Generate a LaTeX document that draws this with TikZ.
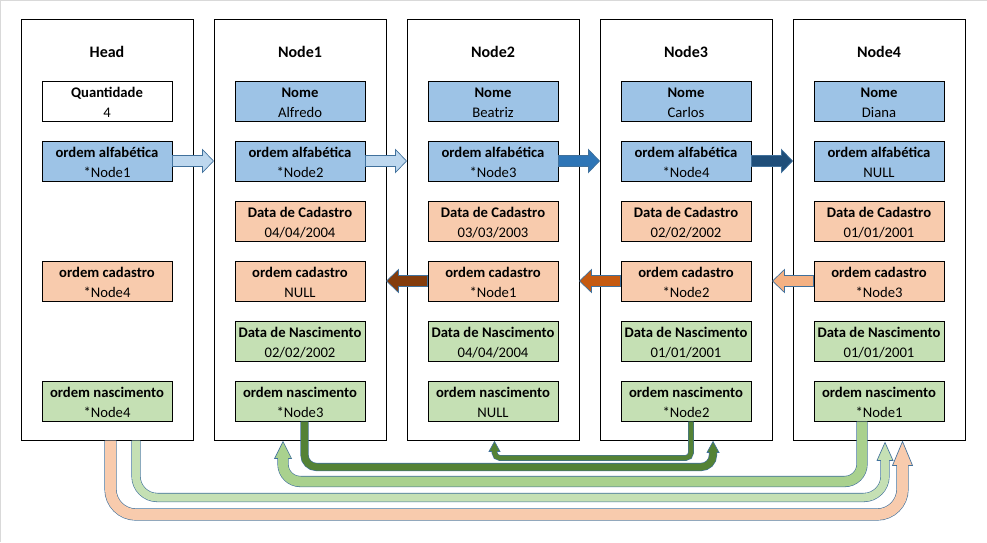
\documentclass[tikz,border=0pt]{standalone}
\usepackage{fontspec}
\setmainfont{Carlito}
\usetikzlibrary{positioning,calc}
\definecolor{fieldblue}{HTML}{9DC3E6}
\definecolor{fieldorange}{HTML}{F8CBAD}
\definecolor{fieldgreen}{HTML}{C5E0B4}
\definecolor{arrowline}{HTML}{41719C}
\definecolor{paleblue}{HTML}{BDD7EE}
\definecolor{midblue}{HTML}{2E75B6}
\definecolor{darkblue}{HTML}{1F4E79}
\definecolor{darkbrown}{HTML}{843C0C}
\definecolor{midorange}{HTML}{C55A11}
\definecolor{lightorange}{HTML}{F4B183}
\definecolor{midgreen}{HTML}{A9D18E}
\definecolor{darkgreen}{HTML}{548235}
\definecolor{framegray}{HTML}{D9D9D9}
\tikzset{
	column/.style={draw, line width=0.75pt, fill=white, minimum width=129pt, minimum height=315pt, inner sep=0pt},
	title/.style={font=\fontsize{12}{14}\selectfont\bfseries},
	field/.style={draw, line width=0.75pt, minimum width=97.5pt, minimum height=30pt, inner sep=0pt, align=center, font=\fontsize{11}{15}\selectfont},
}
% field text: bold name over value
\newcommand{\fieldtext}[2]{\rule{0pt}{10pt}\textbf{#1}\\#2}
% straight block arrow: colour, start, tip, head offset
\newcommand{\flatarrow}[4]{%
	\filldraw[fill=#1, draw=arrowline, line width=0.5pt]
		($(#2)+(0,-5.5)$) -- ($(#3)+(#4,-5.5)$) -- ($(#3)+(#4,-11.5)$) -- (#3)
		-- ($(#3)+(#4,11.5)$) -- ($(#3)+(#4,5.5)$) -- ($(#2)+(0,5.5)$) -- cycle;}
% bent block arrow: [radius] colour, width, start, drop, tip, head half width, head length
\newcommand{\ribbon}[8][10pt]{%
	\coordinate (rb) at ($(#6)+(0,#8-1)$);
	\draw[arrowline, line width=#3+0.9pt, rounded corners=#1] (#4) -- ++(0,#5) -| (rb);
	\filldraw[fill=#2, draw=arrowline, line width=0.5pt] ($(#6)+(-#7,#8)$) -- (#6) -- ($(#6)+(#7,#8)$) -- cycle;
	\draw[#2, line width=#3, rounded corners=#1] (#4) -- ++(0,#5) -| (rb);}

\begin{document}
\begin{tikzpicture}[x=0.75pt, y=-0.75pt]
	\useasboundingbox (0,0) rectangle (987,542);
	\draw[framegray, line width=1.1pt] (0.75,542) -- (0.75,0.75) -- (987,0.75);

	% head
	\node[column] (head) at (107,230) {};
	\node[title] (head-title) at ($(head.north)+(0,32)$) {Head};
	\node[field] (head-qtd) at (107,101) {\fieldtext{Quantidade}{4}};
	\node[field, fill=fieldblue] (head-alf) at (107,161) {\fieldtext{ordem alfabética}{*Node1}};
	\node[field, fill=fieldorange] (head-cad) at (107,281) {\fieldtext{ordem cadastro}{*Node4}};
	\node[field, fill=fieldgreen] (head-nasc) at (107,401) {\fieldtext{ordem nascimento}{*Node4}};

	% nodes
	\foreach \i/\nome/\alf/\dcad/\cad/\dnasc/\nasc in {
		1/Alfredo/*Node2/{04/04/2004}/NULL/{02/02/2002}/*Node3,
		2/Beatriz/*Node3/{03/03/2003}/*Node1/{04/04/2004}/NULL,
		3/Carlos/*Node4/{02/02/2002}/*Node2/{01/01/2001}/*Node2,
		4/Diana/NULL/{01/01/2001}/*Node3/{01/01/2001}/*Node1}{
		\node[column] (n\i) at ({107+193*\i},230) {};
		\node[title] (n\i-title) at ($(n\i.north)+(0,32)$) {Node\i};
		\node[field, fill=fieldblue] (n\i-nome) at ({107+193*\i},101) {\fieldtext{Nome}{\nome}};
		\node[field, fill=fieldblue] (n\i-alf) at ({107+193*\i},161) {\fieldtext{ordem alfabética}{\alf}};
		\node[field, fill=fieldorange] (n\i-dcad) at ({107+193*\i},221) {\fieldtext{Data de Cadastro}{\dcad}};
		\node[field, fill=fieldorange] (n\i-cad) at ({107+193*\i},281) {\fieldtext{ordem cadastro}{\cad}};
		\node[field, fill=fieldgreen] (n\i-dnasc) at ({107+193*\i},341) {\fieldtext{Data de Nascimento}{\dnasc}};
		\node[field, fill=fieldgreen] (n\i-nasc) at ({107+193*\i},401) {\fieldtext{ordem nascimento}{\nasc}};
	}

	% ordem alfabetica
	\coordinate (alf1) at (n1.west |- head-alf.east);
	\coordinate (alf2) at (n2.west |- n1-alf.east);
	\coordinate (alf3) at (n3.west |- n2-alf.east);
	\coordinate (alf4) at (n4.west |- n3-alf.east);
	\flatarrow{paleblue}{head-alf.east}{alf1}{-11}
	\flatarrow{paleblue}{n1-alf.east}{alf2}{-11}
	\flatarrow{midblue}{n2-alf.east}{alf3}{-11}
	\flatarrow{darkblue}{n3-alf.east}{alf4}{-11}

	% ordem cadastro
	\coordinate (cad1) at (n1.east |- n2-cad.west);
	\coordinate (cad2) at (n2.east |- n3-cad.west);
	\coordinate (cad3) at (n3.east |- n4-cad.west);
	\flatarrow{darkbrown}{n2-cad.west}{cad1}{12}
	\flatarrow{midorange}{n3-cad.west}{cad2}{12}
	\flatarrow{lightorange}{n4-cad.west}{cad3}{12}

	% bottom links
	\coordinate (headCad) at ($(head.south)+(3.5,0)$);
	\coordinate (headNasc) at ($(head.south)+(29,0)$);
	\coordinate (tipCad) at ($(n4.south)+(23.5,1)$);
	\coordinate (tipNasc) at ($(n4.south)+(6,2)$);
	\coordinate (nasc4) at ($(n4-nasc.south)+(-17,0)$);
	\coordinate (nasc1) at ($(n1-nasc.south)+(4.5,0)$);
	\coordinate (nasc3) at ($(n3-nasc.south)+(5,0)$);
	\coordinate (tip1) at ($(n1.south)+(-17,1)$);
	\coordinate (tip3) at ($(n3.south)+(27,1)$);
	\coordinate (tip2) at ($(n2.south)+(1.5,1)$);
	\ribbon[19pt]{fieldorange}{8.25pt}{headCad}{74}{tipCad}{10}{24}
	\ribbon[16pt]{fieldgreen}{6pt}{headNasc}{57}{tipNasc}{8}{18}
	\ribbon[13pt]{midgreen}{7.5pt}{nasc4}{60}{tip1}{8.5}{17}
	\ribbon[9pt]{darkgreen}{5.25pt}{nasc1}{45.5}{tip3}{6}{11}
	\ribbon[4pt]{darkgreen}{3.4pt}{nasc3}{36.5}{tip2}{5.5}{10}
\end{tikzpicture}
\end{document}
